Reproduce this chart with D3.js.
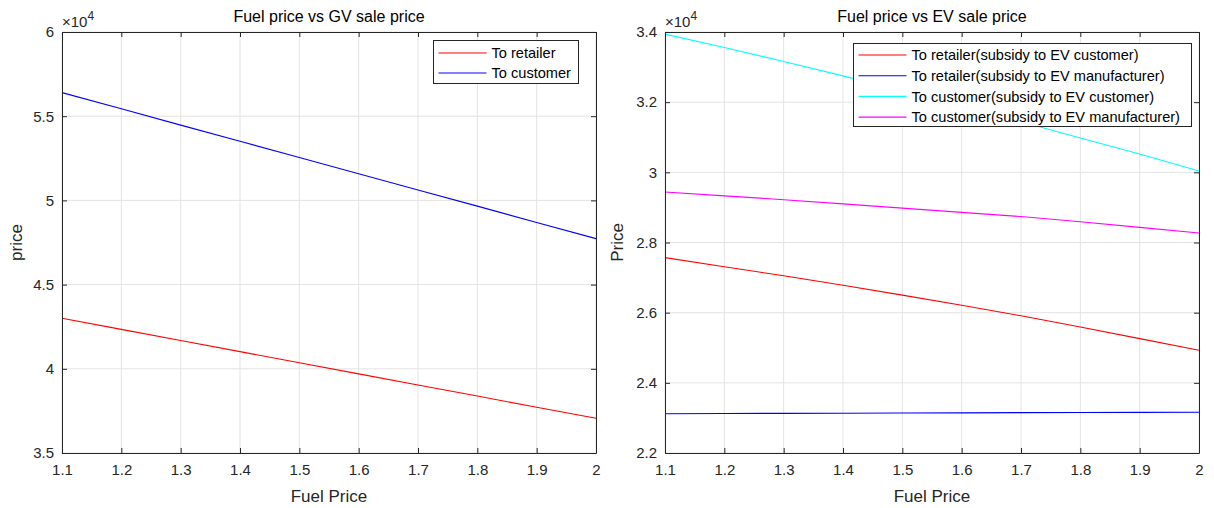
<!DOCTYPE html>
<html>
<head>
<meta charset="utf-8">
<script src="https://cdn.jsdelivr.net/npm/d3@7"></script>
<style>
html,body{margin:0;padding:0;background:#fff;}
svg{display:block;font-family:"Liberation Sans",Arial,Helvetica,sans-serif;}
</style>
</head>
<body>
<svg id="chart" width="1214" height="508"></svg>
<script>
// ---- data ----
const fuelPrice = [1.1, 1.2, 1.3, 1.4, 1.5, 1.6, 1.7, 1.8, 1.9, 2.0];
const xTicks = [1.1, 1.2, 1.3, 1.4, 1.5, 1.6, 1.7, 1.8, 1.9, 2];

// Left panel (GV), values in units of 1e4
const gvToRetailer = [4.300, 4.234, 4.168, 4.102, 4.036, 3.970, 3.904, 3.838, 3.772, 3.706];
const gvToCustomer = [5.640, 5.544, 5.447, 5.351, 5.255, 5.158, 5.062, 4.966, 4.869, 4.773];
const gvYTicks = [3.5, 4, 4.5, 5, 5.5, 6];
const gvSeriesNames = ["To retailer", "To customer"];

// Right panel (EV), values in units of 1e4
const evRetailerSubCust = [2.757, 2.731, 2.705, 2.678, 2.650, 2.621, 2.591, 2.559, 2.526, 2.493];
const evRetailerSubManu = [2.312, 2.3125, 2.313, 2.3135, 2.314, 2.3145, 2.315, 2.3153, 2.3157, 2.316];
const evCustomerSubCust = [3.394, 3.356, 3.316, 3.275, 3.233, 3.189, 3.144, 3.098, 3.052, 3.004];
const evCustomerSubManu = [2.944, 2.933, 2.922, 2.910, 2.898, 2.886, 2.874, 2.859, 2.843, 2.827];
const evYTicks = [2.2, 2.4, 2.6, 2.8, 3, 3.2, 3.4];
const evSeriesNames = [
  "To retailer(subsidy to EV customer)",
  "To retailer(subsidy to EV manufacturer)",
  "To customer(subsidy to EV customer)",
  "To customer(subsidy to EV manufacturer)"
];

const svg = d3.select("#chart");
const axisColor = "#262626";
const gridColor = "#e3e3e3";
const FONT = '"Liberation Sans",Arial,Helvetica,sans-serif';

function drawPanel(cfg) {
  const {x0, x1, y0, y1, yDomain, yTicks, series, title, ylabel, legend} = cfg;
  const x = d3.scaleLinear().domain([1.1, 2]).range([x0, x1]);
  const y = d3.scaleLinear().domain(yDomain).range([y1, y0]);
  const g = svg.append("g");

  g.append("rect").attr("x", x0).attr("y", y0).attr("width", x1 - x0).attr("height", y1 - y0).attr("fill", "#fff");

  // grid
  g.append("g").selectAll("line").data(xTicks).join("line")
    .attr("x1", d => x(d)).attr("x2", d => x(d)).attr("y1", y0).attr("y2", y1)
    .attr("stroke", gridColor).attr("stroke-width", 1);
  g.append("g").selectAll("line").data(yTicks).join("line")
    .attr("x1", x0).attr("x2", x1).attr("y1", d => y(d)).attr("y2", d => y(d))
    .attr("stroke", gridColor).attr("stroke-width", 1);

  // lines
  const line = d3.line().x((d, i) => x(fuelPrice[i])).y(d => y(d));
  series.forEach(s => {
    g.append("path").datum(s.values).attr("d", line)
      .attr("fill", "none").attr("stroke", s.color).attr("stroke-width", 1.1);
  });

  // axes (inward ticks on all four sides)
  const tl = 5;
  const fmt = d => d3.format("")(+d.toFixed(1));
  const bottom = d3.axisBottom(x).tickValues(xTicks).tickSizeInner(-tl).tickSizeOuter(0).tickPadding(11).tickFormat(fmt);
  const top = d3.axisTop(x).tickValues(xTicks).tickSizeInner(-tl).tickSizeOuter(0).tickFormat("");
  const left = d3.axisLeft(y).tickValues(yTicks).tickSizeInner(-tl).tickSizeOuter(0).tickPadding(8).tickFormat(fmt);
  const right = d3.axisRight(y).tickValues(yTicks).tickSizeInner(-tl).tickSizeOuter(0).tickFormat("");

  const styleAxis = sel => {
    sel.selectAll("path").attr("stroke", axisColor).attr("stroke-width", 1);
    sel.selectAll("line").attr("stroke", axisColor).attr("stroke-width", 1);
    sel.selectAll("text").attr("fill", axisColor).style("font-size", "15px").style("font-family", FONT);
  };
  g.append("g").attr("transform", `translate(0,${y1})`).call(bottom).call(styleAxis);
  g.append("g").attr("transform", `translate(0,${y0})`).call(top).call(styleAxis);
  g.append("g").attr("transform", `translate(${x0},0)`).call(left).call(styleAxis);
  g.append("g").attr("transform", `translate(${x1},0)`).call(right).call(styleAxis);

  // exponent
  const ex = g.append("text").attr("x", x0).attr("y", y0 - 5).attr("fill", axisColor)
    .style("font-size", "15px");
  ex.append("tspan").text("\u00d710");
  ex.append("tspan").attr("dy", -7).style("font-size", "12px").text("4");

  // title
  g.append("text").attr("x", (x0 + x1) / 2).attr("y", 22).attr("text-anchor", "middle")
    .attr("fill", "#000").style("font-size", "16px").text(title);

  // x label
  g.append("text").attr("x", (x0 + x1) / 2).attr("y", 502).attr("text-anchor", "middle")
    .attr("fill", axisColor).style("font-size", "17px").text("Fuel Price");

  // y label
  g.append("text").attr("transform", `translate(${cfg.ylabelX},${(y0 + y1) / 2}) rotate(-90)`)
    .attr("text-anchor", "middle").attr("fill", axisColor).style("font-size", "17px").text(ylabel);

  // legend
  const L = legend;
  const lg = g.append("g");
  lg.append("rect").attr("x", L.x).attr("y", L.y).attr("width", L.w).attr("height", L.h)
    .attr("fill", "#fff").attr("stroke", axisColor).attr("stroke-width", 1);
  series.forEach((s, i) => {
    const cy = L.y + L.firstRow + i * L.rowH;
    lg.append("line").attr("x1", L.x + 5).attr("x2", L.x + 53).attr("y1", cy).attr("y2", cy)
      .attr("stroke", s.color).attr("stroke-width", 1.1);
    lg.append("text").attr("x", L.x + 58).attr("y", cy).attr("dy", "0.36em")
      .attr("fill", "#000").style("font-size", "14.6px").text(s.name);
  });
}

drawPanel({
  x0: 62, x1: 596, y0: 32, y1: 453,
  yDomain: [3.5, 6], yTicks: gvYTicks,
  title: "Fuel price vs GV sale price", ylabel: "price", ylabelX: 22,
  series: [
    {name: gvSeriesNames[0], values: gvToRetailer, color: "#ff0000"},
    {name: gvSeriesNames[1], values: gvToCustomer, color: "#0000ff"}
  ],
  legend: {x: 433.5, y: 40.5, w: 145, h: 43, firstRow: 12.5, rowH: 20}
});

drawPanel({
  x0: 665, x1: 1199, y0: 32, y1: 453,
  yDomain: [2.2, 3.4], yTicks: evYTicks,
  title: "Fuel price vs EV sale price", ylabel: "Price", ylabelX: 623,
  series: [
    {name: evSeriesNames[0], values: evRetailerSubCust, color: "#ff0000"},
    {name: evSeriesNames[1], values: evRetailerSubManu, color: "#0000ff"},
    {name: evSeriesNames[2], values: evCustomerSubCust, color: "#00ffff"},
    {name: evSeriesNames[3], values: evCustomerSubManu, color: "#ff00ff"}
  ],
  legend: {x: 853.5, y: 43.5, w: 338, h: 83, firstRow: 11.5, rowH: 20.7}
});
</script>
</body>
</html>
